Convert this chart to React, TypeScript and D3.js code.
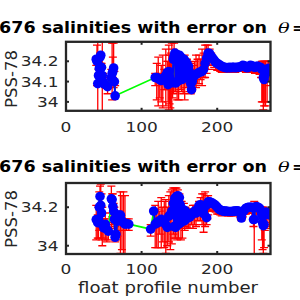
import React from 'react';
import * as d3 from 'd3';

// ---------- data ----------
const xTicks = [0, 100, 200];
const xTickLabels = ['0', '100', '200'];
const topYTicks = [34, 34.1, 34.2];
const topYTickLabels = ['34', '34.1', '34.2'];
const bottomYTicks = [34, 34.2];
const bottomYTickLabels = ['34', '34.2'];
const titleMain = '676 salinities with error on';
const yLabel = 'PSS-78';
const xLabel = 'float profile number';

const N = null;

const topProfile = [40, 41, 42, 43, 44, 45, 46, 47, 48, 49, 50, 52, 55, 57, 60, 61, 62, 63, 64, 65, 90,
  118, 120, 122, 124, 126, 128, 130, 132, 134, 135, 136, 137, 138, 139, 140, 141, 142, 143, 144, 145,
  146, 147, 148, 149, 150, 151, 152, 153, 154, 155, 156, 157, 158, 159, 160, 162, 163, 164, 165, 166,
  167, 168, 170, 172, 174, 176, 178, 180, 182, 184, 186, 188, 190, 192, 194, 196, 198, 200, 202, 204,
  206, 208, 210, 212, 214, 216, 218, 220, 222, 224, 226, 228, 230, 232, 234, 236, 238, 240, 242, 244,
  246, 248, 250, 252, 254, 256, 258, 259, 260, 261, 262, 263, 264, 266, 268, 270];
const topSal = [34.21, 34.2, 34.09, 34.13, 34.165, 34.22, 34.23, 34.17, 34.13, 34.1, 34.09, 34.085, 34.075, N, 34.12, 34.14, 34.15, 34.167, 34.1, 34.03, N,
  34.12, 34.12, 34.115, 34.11, 34.105, 34.11, 34.12, 34.13, 34.145, 34.085, 34.15, 34.12, 34.1, 34.1, 34.098, 34.095, 34.21, 34.225, 34.24, 34.093,
  34.235, 34.1, 34.23, 34.105, 34.23, 34.11, 34.22, 34.11, 34.21, 34.115, 34.21, 34.12, 34.2, 34.12, 34.19, 34.175, 34.15, 34.12, 34.09, 34.06,
  34.1, 34.12, 34.13, 34.135, 34.14, 34.145, 34.148, 34.15, 34.16, 34.19, 34.215, 34.24, 34.238, 34.225, 34.215, 34.205, 34.195, 34.19, 34.185, 34.18,
  34.175, 34.172, 34.17, 34.168, 34.168, 34.17, 34.168, 34.17, 34.17, 34.168, 34.17, 34.17, 34.172, 34.175, 34.18, 34.178, 34.17, 34.168, 34.175, 34.18,
  34.178, 34.172, 34.17, 34.175, 34.175, 34.172, 34.168, 34.16, 34.16, 34.12, 34.11, 34.13, 34.15, 34.16, 34.165, 34.15];
const topMapSal = [34.2, 34.18, 34.12, 34.12, 34.16, 34.21, 34.21, 34.16, 34.12, 34.11, 34.1, 34.09, 34.07, N, 34.13, 34.15, 34.17, 34.18, 34.12, 34.06, N,
  34.11, 34.1, 34.1, 34.08, 34.09, 34.1, 34.11, 34.12, 34.13, 34.1, 34.12, 34.11, 34.1, 34.09, 34.12, 34.1, 34.15, 34.17, 34.16, 34.12,
  34.18, 34.11, 34.19, 34.12, 34.18, 34.12, 34.18, 34.12, 34.17, 34.12, 34.17, 34.12, 34.17, 34.13, 34.16, 34.15, 34.14, 34.12, 34.1, 34.09,
  34.11, 34.13, 34.14, 34.15, 34.15, 34.16, 34.16, 34.17, 34.18, 34.2, 34.21, 34.22, 34.22, 34.21, 34.2, 34.19, 34.18, 34.175, 34.17, 34.165,
  34.16, 34.16, 34.155, 34.155, 34.155, 34.16, 34.155, 34.16, 34.16, 34.155, 34.16, 34.16, 34.16, 34.165, 34.165, 34.165, 34.16, 34.155, 34.16, 34.165,
  34.165, 34.16, 34.155, 34.16, 34.16, 34.155, 34.15, 34.1, 34.1, 34.08, 34.09, 34.1, 34.09, 34.1, 34.15, 34.14];
const topMapErr = [0.02, 0.1, 0.18, 0.04, 0.03, 0.03, 0.02, 0.03, 0.18, 0.03, 0.02, 0.02, 0.03, N, 0.03, 0.14, 0.05, 0.11, 0.03, 0.02, N,
  0.03, 0.09, 0.12, 0.06, 0.09, 0.13, 0.05, 0.14, 0.07, 0.1, 0.16, 0.12, 0.13, 0.15, 0.17, 0.08, 0.11, 0.12, 0.06, 0.07,
  0.05, 0.1, 0.04, 0.11, 0.05, 0.06, 0.04, 0.07, 0.04, 0.08, 0.05, 0.11, 0.04, 0.06, 0.05, 0.04, 0.05, 0.07, 0.06, 0.04,
  0.05, 0.05, 0.06, 0.08, 0.06, 0.07, 0.05, 0.09, 0.06, 0.08, 0.07, 0.06, 0.04, 0.03, 0.02, 0.02, 0.02, 0.02, 0.015, 0.015,
  0.015, 0.01, 0.01, 0.01, 0.01, 0.01, 0.01, 0.01, 0.01, 0.01, 0.01, 0.01, 0.01, 0.01, 0.01, 0.01, 0.015, 0.01, 0.01, 0.01,
  0.01, 0.015, 0.015, 0.015, 0.02, 0.02, 0.03, 0.1, 0.1, 0.12, 0.11, 0.1, 0.11, 0.1, 0.05, 0.06];

const bottomProfile = [40, 42, 43, 44, 45, 46, 47, 48, 50, 52, 54, 56, 58, 60, 61, 62, 63, 64, 65, 66, 68, 70, 72, 74, 76, 78, 80, 83, 85,
  112, 113, 116, 118, 120, 122, 124, 126, 128, 130, 132, 134, 136, 138, 140, 142, 143, 144, 145, 146, 147, 148, 149, 150, 151, 152, 153, 154,
  156, 157, 158, 160, 162, 164, 166, 168, 170, 172, 174, 176, 178, 180, 182, 184, 186, 187, 188, 190, 192, 194, 196, 198, 200, 202, 204,
  206, 208, 210, 212, 214, 216, 218, 220, 222, 224, 226, 228, 230, 232, 234, 236, 238, 240, 242, 244, 246, 248, 249, 250, 252, 254, 256,
  258, 259, 260, 261, 262, 263, 265, 267, 269, 270];
const bottomSal = [34.136, 34.12, 34.137, 34.2, 34.256, 34.21, 34.17, 34.11, 34.093, 34.112, 34.086, 34.076, N, 34.244, 34.24, 34.205, 34.18, 34.137, 34.044, 34.06, 34.127, 34.16, 34.159, 34.129, 34.12, 34.112, 34.115, 34.112, N,
  34.086, N, 34.18, 34.112, 34.12, 34.12, 34.13, 34.137, 34.13, 34.12, 34.11, 34.095, 34.154, 34.16, 34.18, 34.22, 34.1, 34.247, 34.095, 34.255, 34.11, 34.26, 34.112, 34.25, 34.213, 34.12, 34.19, 34.13,
  34.185, 34.13, 34.18, 34.144, 34.146, 34.15, 34.16, 34.17, 34.18, 34.17, 34.19, 34.21, 34.213, 34.2, 34.167, 34.205, 34.146, 34.215, 34.228, 34.228, 34.225, 34.22, 34.215, 34.21, 34.2, 34.192, 34.186,
  34.183, 34.18, 34.18, 34.18, 34.178, 34.178, 34.178, 34.178, 34.18, 34.18, 34.182, 34.18, 34.175, 34.144, 34.175, 34.185, 34.195, 34.198, 34.2, 34.2, 34.2, 34.136, 34.137, 34.2, 34.203, 34.2, 34.195,
  34.18, 34.16, 34.12, 34.104, 34.11, 34.16, 34.175, 34.17, 34.16, 34.162];
const bottomMapSal = [34.12, 34.1, 34.12, 34.18, 34.22, 34.18, 34.15, 34.1, 34.09, 34.1, 34.08, 34.07, N, 34.2, 34.21, 34.19, 34.17, 34.13, 34.06, 34.08, 34.11, 34.13, 34.12, 34.12, 34.11, 34.1, 34.11, 34.11, N,
  34.08, N, 34.15, 34.1, 34.09, 34.11, 34.12, 34.12, 34.11, 34.11, 34.1, 34.1, 34.14, 34.13, 34.15, 34.18, 34.12, 34.19, 34.11, 34.2, 34.12, 34.2, 34.12, 34.2, 34.17, 34.12, 34.16, 34.12,
  34.16, 34.13, 34.15, 34.14, 34.13, 34.14, 34.15, 34.15, 34.16, 34.15, 34.17, 34.18, 34.19, 34.19, 34.17, 34.19, 34.15, 34.2, 34.21, 34.21, 34.21, 34.205, 34.2, 34.195, 34.185, 34.18, 34.175,
  34.17, 34.17, 34.17, 34.17, 34.165, 34.165, 34.165, 34.165, 34.17, 34.17, 34.17, 34.17, 34.165, 34.15, 34.165, 34.175, 34.18, 34.185, 34.185, 34.185, 34.185, 34.12, 34.09, 34.185, 34.19, 34.185, 34.18,
  34.17, 34.11, 34.09, 34.08, 34.09, 34.13, 34.15, 34.15, 34.14, 34.14];
const bottomMapErr = [0.09, 0.06, 0.08, 0.1, 0.09, 0.14, 0.12, 0.1, 0.05, 0.07, 0.06, 0.04, N, 0.11, 0.06, 0.08, 0.05, 0.07, 0.04, 0.05, 0.06, 0.05, 0.16, 0.14, 0.17, 0.16, 0.03, 0.03, N,
  0.03, N, 0.04, 0.11, 0.1, 0.12, 0.06, 0.13, 0.09, 0.12, 0.14, 0.1, 0.12, 0.15, 0.14, 0.12, 0.08, 0.11, 0.07, 0.1, 0.09, 0.09, 0.08, 0.07, 0.06, 0.09, 0.07, 0.08,
  0.06, 0.05, 0.05, 0.05, 0.04, 0.05, 0.04, 0.06, 0.05, 0.05, 0.04, 0.05, 0.06, 0.08, 0.1, 0.09, 0.04, 0.06, 0.05, 0.03, 0.03, 0.02, 0.02, 0.02, 0.02, 0.015, 0.015,
  0.015, 0.01, 0.01, 0.01, 0.01, 0.01, 0.01, 0.01, 0.01, 0.01, 0.01, 0.01, 0.015, 0.02, 0.015, 0.01, 0.015, 0.015, 0.015, 0.015, 0.015, 0.02, 0.14, 0.02, 0.02, 0.02, 0.02,
  0.03, 0.08, 0.11, 0.12, 0.1, 0.05, 0.04, 0.03, 0.04, 0.05];

// ---------- layout ----------
const X_LEFT = 66;
const X_RIGHT = 270.5;
const X_DOMAIN: [number, number] = [0, 270.5];
const FRAME = '#262626';
const TEXT = '#262626';
const SX = 1.17;

type PanelProps = {
  id: string;
  profile: number[];
  sal: (number | null)[];
  mapSal: (number | null)[];
  mapErr: (number | null)[];
  top: number;
  bottom: number;
  yDomain: [number, number];
  yTicks: number[];
  yTickLabels: string[];
  titleY: number;
  xTickLabelY: number;
  yLabelY: number;
};

type Pt = { p: number; s: number | null; m: number | null; e: number | null };

function Panel(props: PanelProps) {
  const { id, profile, sal, mapSal, mapErr, top, bottom, yDomain, yTicks, yTickLabels, titleY, xTickLabelY, yLabelY } = props;
  const x = d3.scaleLinear().domain(X_DOMAIN).range([X_LEFT, X_RIGHT]);
  const y = d3.scaleLinear().domain(yDomain).range([bottom, top]);
  const pts: Pt[] = profile.map((p, i) => ({ p, s: sal[i], m: mapSal[i], e: mapErr[i] }));
  const valid = pts.filter((d) => d.s != null);
  const blue = d3.line<Pt>().defined((d) => d.s != null).x((d) => x(d.p)).y((d) => y(d.s as number))(pts) || '';
  const green = d3.line<Pt>().x((d) => x(d.p)).y((d) => y(d.s as number))(valid) || '';
  const red = d3.line<Pt>().defined((d) => d.m != null).x((d) => x(d.p)).y((d) => y(d.m as number))(pts) || '';
  const bars = pts.filter((d) => d.m != null && d.e != null);
  const cap = 4;
  const tl = 3;
  return (
    <g>
      <defs>
        <clipPath id={id}>
          <rect x={X_LEFT} y={top} width={X_RIGHT - X_LEFT} height={bottom - top} />
        </clipPath>
      </defs>
      <g clipPath={`url(#${id})`}>
        <g stroke="#ff0000" strokeWidth={1.3} fill="none">
          {bars.map((d, i) => {
            const cx = x(d.p);
            const y1 = y((d.m as number) - (d.e as number));
            const y2 = y((d.m as number) + (d.e as number));
            return (
              <g key={i}>
                <line x1={cx} x2={cx} y1={y1} y2={y2} />
                <line x1={cx - cap} x2={cx + cap} y1={y1} y2={y1} />
                <line x1={cx - cap} x2={cx + cap} y1={y2} y2={y2} />
              </g>
            );
          })}
          <path d={red} />
        </g>
        <path d={green} stroke="#00ff00" strokeWidth={1.7} fill="none" />
        <path d={blue} stroke="#0000ff" strokeWidth={2} fill="none" />
        {valid.map((d, i) => (
          <circle key={i} cx={x(d.p)} cy={y(d.s as number)} r={4.8} fill="#0000ff" />
        ))}
      </g>
      {/* frame */}
      <rect x={X_LEFT} y={top} width={X_RIGHT - X_LEFT} height={bottom - top} fill="none" stroke={FRAME} strokeWidth={2.3} />
      {/* ticks */}
      <g stroke={FRAME} strokeWidth={2}>
        {xTicks.map((t) => (
          <g key={t}>
            <line x1={x(t)} x2={x(t)} y1={bottom} y2={bottom - tl} />
            <line x1={x(t)} x2={x(t)} y1={top} y2={top + tl} />
          </g>
        ))}
        {yTicks.map((t) => (
          <g key={t}>
            <line x1={X_LEFT} x2={X_LEFT + tl} y1={y(t)} y2={y(t)} />
            <line x1={X_RIGHT} x2={X_RIGHT - tl} y1={y(t)} y2={y(t)} />
          </g>
        ))}
      </g>
      {/* tick labels */}
      <g fill={TEXT} fontFamily="DejaVu Sans" fontSize={14.5}>
        {xTicks.map((t, i) => (
          <g key={t} transform={`translate(${x(t)},${xTickLabelY}) scale(${SX},1)`}>
            <text textAnchor="middle">{xTickLabels[i]}</text>
          </g>
        ))}
        {yTicks.map((t, i) => (
          <g key={t} transform={`translate(58.5,${y(t) + 5}) scale(${SX},1)`}>
            <text textAnchor="end">{yTickLabels[i]}</text>
          </g>
        ))}
      </g>
      {/* y label */}
      <g transform={`translate(17,${yLabelY}) rotate(-90)`}>
        <text textAnchor="middle" fill={TEXT} fontFamily="DejaVu Sans" fontSize={16.5} textLength={58} lengthAdjust="spacingAndGlyphs">
          {yLabel}
        </text>
      </g>
      {/* title */}
      <text x={-1} y={titleY} fill="#000" fontFamily="DejaVu Sans" fontWeight="bold" fontSize={15.5} textLength={268} lengthAdjust="spacingAndGlyphs">
        {titleMain}
      </text>
      <g transform={`translate(278,${titleY}) scale(1.25,1)`}>
        <text fill="#000" fontFamily="DejaVu Serif" fontStyle="italic" fontSize={15.5}>θ</text>
      </g>
      <g transform={`translate(292,${titleY}) scale(1.2,1)`}>
        <text fill="#000" fontFamily="DejaVu Sans" fontWeight="bold" fontSize={14.5}>=</text>
      </g>
    </g>
  );
}

export default function App() {
  return (
    <svg width={300} height={300} style={{ position: 'absolute', left: 0, top: 0, background: '#fff' }}>
      <rect x={0} y={0} width={300} height={300} fill="#fff" />
      <Panel
        id="clipTop"
        profile={topProfile}
        sal={topSal}
        mapSal={topMapSal}
        mapErr={topMapErr}
        top={41.8}
        bottom={110.8}
        yDomain={[33.956, 34.296]}
        yTicks={topYTicks}
        yTickLabels={topYTickLabels}
        titleY={33.3}
        xTickLabelY={131.7}
        yLabelY={79}
      />
      <Panel
        id="clipBottom"
        profile={bottomProfile}
        sal={bottomSal}
        mapSal={bottomMapSal}
        mapErr={bottomMapErr}
        top={183}
        bottom={254}
        yDomain={[33.957, 34.326]}
        yTicks={bottomYTicks}
        yTickLabels={bottomYTickLabels}
        titleY={171.7}
        xTickLabelY={274}
        yLabelY={219}
      />
      <text x={78} y={293} fill={TEXT} fontFamily="DejaVu Sans" fontSize={15.5} textLength={180} lengthAdjust="spacingAndGlyphs">
        {xLabel}
      </text>
    </svg>
  );
}
